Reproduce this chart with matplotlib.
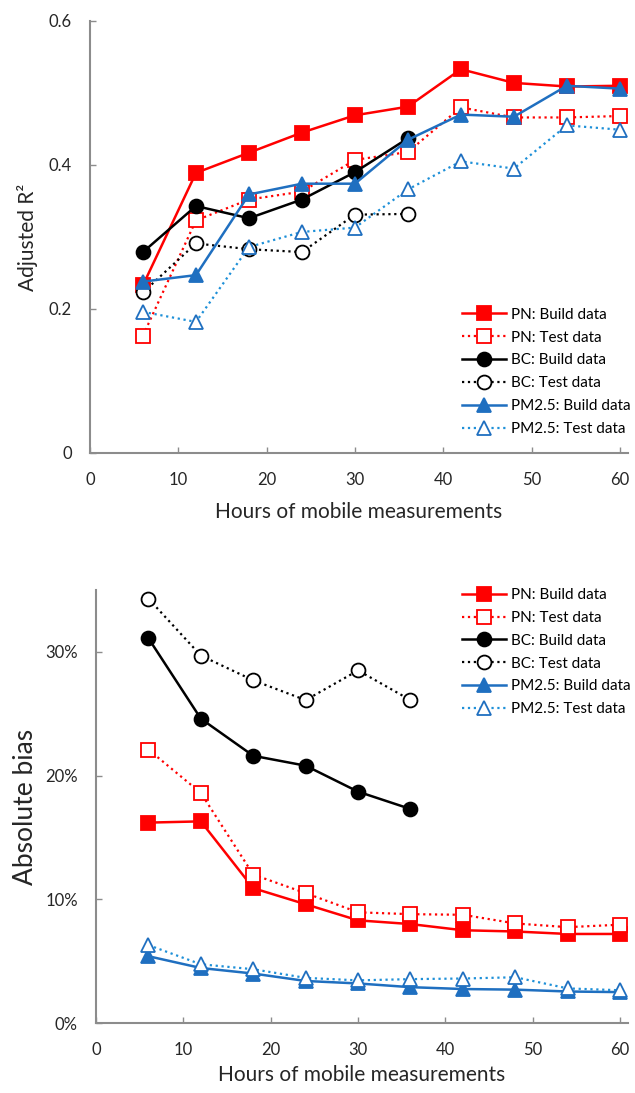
import matplotlib
matplotlib.use("Agg")
import matplotlib.pyplot as plt
from matplotlib.ticker import PercentFormatter, MultipleLocator

plt.rcParams['font.family'] = ['Lato', 'DejaVu Sans']

hours = [6, 12, 18, 24, 30, 36, 42, 48, 54, 60]
hours_bc = [6, 12, 18, 24, 30, 36]

# Adjusted R2
r2_pn_build = [0.233, 0.389, 0.417, 0.445, 0.469, 0.481, 0.533, 0.514, 0.509, 0.510]
r2_pn_test = [0.163, 0.323, 0.352, 0.363, 0.407, 0.418, 0.480, 0.466, 0.466, 0.468]
r2_bc_build = [0.279, 0.343, 0.326, 0.352, 0.390, 0.437]
r2_bc_test = [0.223, 0.291, 0.283, 0.279, 0.331, 0.332]
r2_pm_build = [0.238, 0.247, 0.359, 0.374, 0.374, 0.435, 0.470, 0.467, 0.510, 0.506]
r2_pm_test = [0.196, 0.182, 0.286, 0.307, 0.313, 0.366, 0.405, 0.395, 0.455, 0.449]

# Absolute bias (%)
bias_pn_build = [16.2, 16.3, 10.9, 9.6, 8.3, 8.0, 7.5, 7.4, 7.2, 7.2]
bias_pn_test = [22.1, 18.6, 12.0, 10.5, 8.95, 8.8, 8.75, 8.05, 7.75, 7.95]
bias_bc_build = [31.1, 24.6, 21.6, 20.8, 18.7, 17.3]
bias_bc_test = [34.3, 29.7, 27.7, 26.1, 28.5, 26.1]
bias_pm_build = [5.4, 4.45, 4.0, 3.4, 3.2, 2.9, 2.75, 2.7, 2.55, 2.5]
bias_pm_test = [6.3, 4.75, 4.35, 3.65, 3.45, 3.55, 3.6, 3.7, 2.8, 2.65]

labels = ["PN: Build data", "PN: Test data", "BC: Build data", "BC: Test data",
          "PM2.5: Build data", "PM2.5: Test data"]

RED = '#FF0000'
BLK = '#000000'
BLUE = '#1F6FC0'
BLUE_T = '#1E90D8'
GRAY = '#8C8C8C'
TXT = '#262626'


def draw(ax, series, xlabelpad):
    styles = [
        dict(color=RED, ls='-', marker='s', mfc=RED, mec=RED, ms=10, lw=1.8),
        dict(color=RED, ls=':', marker='s', mfc='white', mec=RED, ms=10, lw=1.6),
        dict(color=BLK, ls='-', marker='o', mfc=BLK, mec=BLK, ms=10, lw=1.8),
        dict(color=BLK, ls=':', marker='o', mfc='white', mec=BLK, ms=10, lw=1.6),
        dict(color=BLUE, ls='-', marker='^', mfc=BLUE, mec=BLUE, ms=10, lw=1.8),
        dict(color=BLUE_T, ls=':', marker='^', mfc='white', mec=BLUE, ms=10, lw=1.6),
    ]
    for (x, y), st, lab in zip(series, styles, labels):
        ax.plot(x, y, label=lab, mew=1.3, **st)
    for s in ['top', 'right']:
        ax.spines[s].set_visible(False)
    for s in ['left', 'bottom']:
        ax.spines[s].set_color(GRAY)
        ax.spines[s].set_linewidth(1.5)
    ax.set_xlim(0, 60.9)
    ax.xaxis.set_major_locator(MultipleLocator(10))
    ax.tick_params(direction='in', length=4, width=1, color=GRAY,
                   labelsize=12, labelcolor=TXT)
    ax.tick_params(axis='x', pad=14)
    ax.tick_params(axis='y', pad=13)
    ax.set_xlabel("Hours of mobile measurements", fontsize=15, color=TXT,
                  labelpad=xlabelpad)


def add_legend(ax, fig, loc, y):
    ax.legend(loc=loc, bbox_to_anchor=(634 / 635, y), bbox_transform=fig.transFigure,
              frameon=False, fontsize=11, handlelength=2.9, labelspacing=0.58,
              handletextpad=0.33, borderpad=0.2, borderaxespad=0)


fig = plt.figure(figsize=(6.35, 10.93), dpi=100)

ax1 = fig.add_axes([0.1417, 0.5856, 0.847, 0.3952])
draw(ax1, [(hours, r2_pn_build), (hours, r2_pn_test), (hours_bc, r2_bc_build),
           (hours_bc, r2_bc_test), (hours, r2_pm_build), (hours, r2_pm_test)], 10)
ax1.set_ylim(0, 0.6)
ax1.set_yticks([0, 0.2, 0.4, 0.6])
ax1.set_yticklabels(['0', '0.2', '0.4', '0.6'])
ax1.set_ylabel("Adjusted R²", fontsize=15, color=TXT, labelpad=8)
add_legend(ax1, fig, 'lower right', 1 - 439 / 1093)

ax2 = fig.add_axes([0.1512, 0.064, 0.8378, 0.3962])
draw(ax2, [(hours, bias_pn_build), (hours, bias_pn_test), (hours_bc, bias_bc_build),
           (hours_bc, bias_bc_test), (hours, bias_pm_build), (hours, bias_pm_test)], 5)
ax2.set_ylim(0, 35)
ax2.set_yticks([0, 10, 20, 30])
ax2.yaxis.set_major_formatter(PercentFormatter(decimals=0))
ax2.set_ylabel("Absolute bias", fontsize=19, color=TXT, labelpad=5)
add_legend(ax2, fig, 'upper right', 1 - 585 / 1093)

fig.savefig("out.png", dpi=100)
